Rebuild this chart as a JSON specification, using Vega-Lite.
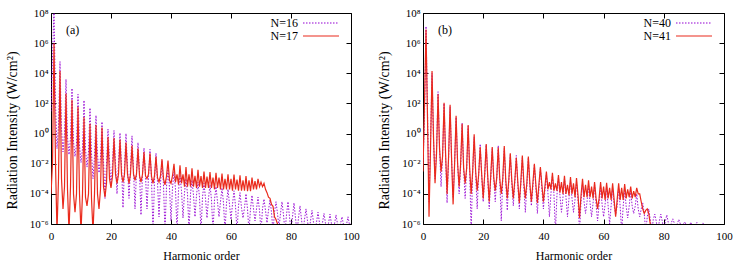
{
"$schema":"https://vega.github.io/schema/vega-lite/v6.json",
"background":"white",
"padding":{"left":4,"top":6,"right":0,"bottom":0},
"config":{"font":"Liberation Serif","view":{"stroke":"#000","strokeWidth":1},
 "axis":{"tickSize":-5,"tickColor":"#000","domain":false,"grid":false,"labelFont":"Liberation Serif","labelFontSize":11,"labelColor":"#000","titleFont":"Liberation Serif","titleFontSize":12,"titleFontWeight":"normal","titleColor":"#000","labelFlush":false,"labelOverlap":false},
 "axisX":{"labelPadding":11,"titlePadding":9},
 "axisY":{"labelPadding":8,"titlePadding":10,"titleFontSize":14},
 "legend":{"labelFont":"Liberation Serif","labelFontSize":12,"labelColor":"#000"}},
"datasets":{
"a16":[{"x":0,"y":30},{"x":0.5,"y":1e5},{"x":1,"y":2e8},{"x":1.5,"y":100},{"x":2,"y":0.1},{"x":2.5,"y":3},{"x":3,"y":6e4},{"x":3.5,"y":2},{"x":4,"y":0.06},{"x":4.5,"y":1},{"x":5,"y":4000},{"x":5.5,"y":0.6},{"x":6,"y":0.04},{"x":6.5,"y":0.5},{"x":7,"y":1000},{"x":7.5,"y":0.3},{"x":8,"y":0.03},{"x":8.5,"y":0.2},{"x":9,"y":400},{"x":9.5,"y":0.15},{"x":10,"y":0.012},{"x":10.5,"y":0.1},{"x":11,"y":160},{"x":11.5,"y":0.1},{"x":12,"y":0.006},{"x":12.5,"y":0.06},{"x":13,"y":50},{"x":13.5,"y":0.05},{"x":14,"y":0.001},{"x":14.5,"y":0.03},{"x":15,"y":16},{"x":15.5,"y":0.04},{"x":16,"y":0.0025},{"x":16.5,"y":0.025},{"x":17,"y":6},{"x":17.5,"y":0.016},{"x":18,"y":5e-5},{"x":18.5,"y":0.01},{"x":19,"y":2},{"x":19.5,"y":0.016},{"x":20,"y":3e-4},{"x":20.5,"y":0.01},{"x":21,"y":1.6},{"x":21.5,"y":0.012},{"x":22,"y":1e-4},{"x":22.5,"y":0.01},{"x":23,"y":1.1},{"x":23.5,"y":0.008},{"x":24,"y":1.2e-5},{"x":24.5,"y":0.006},{"x":25,"y":1},{"x":25.5,"y":0.006},{"x":26,"y":5e-5},{"x":26.5,"y":0.005},{"x":27,"y":0.7},{"x":27.5,"y":0.004},{"x":28,"y":1e-5},{"x":28.5,"y":0.003},{"x":29,"y":0.25},{"x":29.5,"y":0.0025},{"x":30,"y":4e-6},{"x":30.5,"y":0.002},{"x":31,"y":0.11},{"x":31.5,"y":0.0016},{"x":32,"y":1e-5},{"x":32.5,"y":0.0012},{"x":33,"y":0.09},{"x":33.5,"y":0.001},{"x":34,"y":3e-7},{"x":34.5,"y":8e-4},{"x":35,"y":0.05},{"x":35.5,"y":6e-4},{"x":36,"y":3e-6},{"x":36.5,"y":5e-4},{"x":37,"y":0.016},{"x":37.5,"y":4e-4},{"x":38,"y":3e-7},{"x":38.5,"y":3e-4},{"x":39,"y":0.0055},{"x":39.5,"y":2.5e-4},{"x":40,"y":1.6e-6},{"x":40.5,"y":2.5e-4},{"x":41,"y":0.003},{"x":41.5,"y":2e-4},{"x":42,"y":3e-7},{"x":42.5,"y":1.6e-4},{"x":43,"y":0.0016},{"x":43.5,"y":1.6e-4},{"x":44,"y":2.5e-6},{"x":44.5,"y":1.2e-4},{"x":45,"y":0.001},{"x":45.5,"y":1e-4},{"x":46,"y":3e-7},{"x":46.5,"y":1e-4},{"x":47,"y":8e-4},{"x":47.5,"y":8e-5},{"x":48,"y":3e-6},{"x":48.5,"y":8e-5},{"x":49,"y":6e-4},{"x":49.5,"y":6e-5},{"x":50,"y":3e-7},{"x":50.5,"y":6e-5},{"x":51,"y":5e-4},{"x":51.5,"y":5e-5},{"x":52,"y":2.5e-6},{"x":52.5,"y":5e-5},{"x":53,"y":4e-4},{"x":53.5,"y":4e-5},{"x":54,"y":3e-7},{"x":54.5,"y":4e-5},{"x":55,"y":3e-4},{"x":55.5,"y":3e-5},{"x":56,"y":3e-6},{"x":56.5,"y":3e-5},{"x":57,"y":2.5e-4},{"x":57.5,"y":2.5e-5},{"x":58,"y":3e-7},{"x":58.5,"y":2.5e-5},{"x":59,"y":2e-4},{"x":59.5,"y":2e-5},{"x":60,"y":2e-6},{"x":60.5,"y":2e-5},{"x":61,"y":1.6e-4},{"x":61.5,"y":1.6e-5},{"x":62,"y":3e-7},{"x":62.5,"y":1.6e-5},{"x":63,"y":1.2e-4},{"x":63.5,"y":1.2e-5},{"x":64,"y":2.5e-6},{"x":64.5,"y":1.2e-5},{"x":65,"y":1e-4},{"x":65.5,"y":1e-5},{"x":66,"y":3e-7},{"x":66.5,"y":1e-5},{"x":67,"y":8e-5},{"x":67.5,"y":1e-5},{"x":68,"y":1.6e-6},{"x":68.5,"y":1e-5},{"x":69,"y":6e-5},{"x":69.5,"y":8e-6},{"x":70,"y":3e-7},{"x":70.5,"y":1e-5},{"x":71,"y":4.5e-5},{"x":71.5,"y":8e-6},{"x":72,"y":1.2e-6},{"x":72.5,"y":8e-6},{"x":73,"y":4e-5},{"x":73.5,"y":6e-6},{"x":74,"y":3e-7},{"x":74.5,"y":6e-6},{"x":75,"y":3e-5},{"x":75.5,"y":5e-6},{"x":76,"y":6e-7},{"x":76.5,"y":5e-6},{"x":77,"y":3e-5},{"x":77.5,"y":4e-6},{"x":78,"y":3e-7},{"x":78.5,"y":4e-6},{"x":79,"y":3e-5},{"x":79.5,"y":3e-6},{"x":80,"y":3e-7},{"x":80.5,"y":3e-6},{"x":81,"y":2.5e-5},{"x":81.5,"y":2.5e-6},{"x":82,"y":3e-7},{"x":82.5,"y":2.5e-6},{"x":83,"y":1.6e-5},{"x":83.5,"y":2e-6},{"x":84,"y":3e-7},{"x":84.5,"y":2e-6},{"x":85,"y":1e-5},{"x":85.5,"y":1.6e-6},{"x":86,"y":3e-7},{"x":86.5,"y":1.6e-6},{"x":87,"y":8e-6},{"x":87.5,"y":1.3e-6},{"x":88,"y":3e-7},{"x":88.5,"y":1.3e-6},{"x":89,"y":6e-6},{"x":89.5,"y":1.2e-6},{"x":90,"y":3e-7},{"x":90.5,"y":1.2e-6},{"x":91,"y":5e-6},{"x":91.5,"y":1.1e-6},{"x":92,"y":3e-7},{"x":92.5,"y":1.1e-6},{"x":93,"y":4.5e-6},{"x":93.5,"y":1e-6},{"x":94,"y":3e-7},{"x":94.5,"y":1e-6},{"x":95,"y":4e-6},{"x":95.5,"y":1e-6},{"x":96,"y":3e-7},{"x":96.5,"y":1e-6},{"x":97,"y":3e-6},{"x":97.5,"y":9e-7},{"x":98,"y":3e-7},{"x":98.5,"y":9e-7},{"x":99,"y":3e-6},{"x":99.5,"y":9e-7},{"x":100,"y":1e-6}],
"a17":[{"x":0,"y":1e-4},{"x":0.5,"y":0.01},{"x":1,"y":1e6},{"x":1.5,"y":0.01},{"x":2,"y":3e-7},{"x":2.5,"y":1e-3},{"x":3,"y":1.4e4},{"x":3.5,"y":1e-3},{"x":4,"y":1e-5},{"x":4.5,"y":3e-4},{"x":5,"y":450},{"x":5.5,"y":2e-4},{"x":6,"y":3e-7},{"x":6.5,"y":3e-4},{"x":7,"y":170},{"x":7.5,"y":1e-4},{"x":8,"y":6e-6},{"x":8.5,"y":1e-4},{"x":9,"y":60},{"x":9.5,"y":1e-4},{"x":10,"y":3e-7},{"x":10.5,"y":1e-4},{"x":11,"y":12},{"x":11.5,"y":6e-5},{"x":12,"y":1.6e-5},{"x":12.5,"y":1e-4},{"x":13,"y":4.5},{"x":13.5,"y":5e-5},{"x":14,"y":3e-7},{"x":14.5,"y":1e-4},{"x":15,"y":3.7},{"x":15.5,"y":1e-4},{"x":16,"y":1e-5},{"x":16.5,"y":2e-4},{"x":17,"y":2.5},{"x":17.5,"y":3e-4},{"x":18,"y":6e-5},{"x":18.5,"y":5e-4},{"x":19,"y":0.6},{"x":19.5,"y":1e-3},{"x":20,"y":2.5e-4},{"x":20.5,"y":1.5e-3},{"x":21,"y":0.5},{"x":21.5,"y":2e-3},{"x":22,"y":5e-4},{"x":22.5,"y":2e-3},{"x":23,"y":0.4},{"x":23.5,"y":2e-3},{"x":24,"y":6e-4},{"x":24.5,"y":2e-3},{"x":25,"y":0.25},{"x":25.5,"y":2e-3},{"x":26,"y":5e-4},{"x":26.5,"y":2e-3},{"x":27,"y":0.16},{"x":27.5,"y":2e-3},{"x":28,"y":8e-4},{"x":28.5,"y":2e-3},{"x":29,"y":0.1},{"x":29.5,"y":1.6e-3},{"x":30,"y":6e-4},{"x":30.5,"y":2e-3},{"x":31,"y":0.06},{"x":31.5,"y":1.6e-3},{"x":32,"y":1e-3},{"x":32.5,"y":2e-3},{"x":33,"y":0.05},{"x":33.5,"y":1.5e-3},{"x":34,"y":5e-4},{"x":34.5,"y":1.6e-3},{"x":35,"y":0.03},{"x":35.5,"y":1.2e-3},{"x":36,"y":6e-4},{"x":36.5,"y":1.6e-3},{"x":37,"y":0.02},{"x":37.5,"y":1e-3},{"x":38,"y":4e-4},{"x":38.5,"y":1.5e-3},{"x":39,"y":0.016},{"x":39.5,"y":8e-4},{"x":40,"y":5e-4},{"x":40.5,"y":1.6e-3},{"x":41,"y":0.01},{"x":41.5,"y":6e-4},{"x":42,"y":2e-3},{"x":42.5,"y":4e-4},{"x":43,"y":0.008},{"x":43.5,"y":5e-4},{"x":44,"y":2e-3},{"x":44.5,"y":3e-4},{"x":45,"y":0.006},{"x":45.5,"y":3e-4},{"x":46,"y":2e-3},{"x":46.5,"y":3e-4},{"x":47,"y":0.005},{"x":47.5,"y":3e-4},{"x":48,"y":1.6e-3},{"x":48.5,"y":2.5e-4},{"x":49,"y":0.004},{"x":49.5,"y":3e-4},{"x":50,"y":1.5e-3},{"x":50.5,"y":2.5e-4},{"x":51,"y":0.003},{"x":51.5,"y":2.5e-4},{"x":52,"y":1.4e-3},{"x":52.5,"y":2.5e-4},{"x":53,"y":0.0028},{"x":53.5,"y":2.5e-4},{"x":54,"y":1.2e-3},{"x":54.5,"y":2e-4},{"x":55,"y":0.0025},{"x":55.5,"y":2.5e-4},{"x":56,"y":1.2e-3},{"x":56.5,"y":2e-4},{"x":57,"y":0.0022},{"x":57.5,"y":2e-4},{"x":58,"y":1e-3},{"x":58.5,"y":2e-4},{"x":59,"y":0.002},{"x":59.5,"y":2e-4},{"x":60,"y":1e-3},{"x":60.5,"y":1.6e-4},{"x":61,"y":0.0019},{"x":61.5,"y":2e-4},{"x":62,"y":9e-4},{"x":62.5,"y":1.6e-4},{"x":63,"y":0.0017},{"x":63.5,"y":1.6e-4},{"x":64,"y":8e-4},{"x":64.5,"y":1.6e-4},{"x":65,"y":0.0015},{"x":65.5,"y":1.5e-4},{"x":66,"y":8e-4},{"x":66.5,"y":1.5e-4},{"x":67,"y":0.0012},{"x":67.5,"y":2e-4},{"x":68,"y":7e-4},{"x":68.5,"y":2e-4},{"x":69,"y":0.001},{"x":69.5,"y":3e-4},{"x":70,"y":6e-4},{"x":70.5,"y":3e-4},{"x":71,"y":5e-4},{"x":71.5,"y":2e-4},{"x":72,"y":1.2e-4},{"x":72.5,"y":6e-5},{"x":73,"y":5e-5},{"x":73.5,"y":2e-5},{"x":74,"y":1.5e-5},{"x":74.5,"y":3e-6},{"x":75,"y":2e-6},{"x":75.5,"y":1e-6},{"x":76,"y":5e-7},{"x":76.5,"y":2e-7},{"x":77,"y":1e-7}],
"b40":[{"x":0,"y":0.01},{"x":0.5,"y":10},{"x":1,"y":1.3e7},{"x":1.5,"y":30},{"x":2,"y":3e-5},{"x":2.5,"y":0.3},{"x":3,"y":1e4},{"x":3.5,"y":0.3},{"x":4,"y":1e-3},{"x":4.5,"y":0.1},{"x":5,"y":600},{"x":5.5,"y":0.1},{"x":6,"y":3e-4},{"x":6.5,"y":0.03},{"x":7,"y":100},{"x":7.5,"y":0.03},{"x":8,"y":2.5e-5},{"x":8.5,"y":0.02},{"x":9,"y":60},{"x":9.5,"y":0.02},{"x":10,"y":6e-5},{"x":10.5,"y":0.01},{"x":11,"y":12},{"x":11.5,"y":0.01},{"x":12,"y":1e-4},{"x":12.5,"y":0.006},{"x":13,"y":5},{"x":13.5,"y":0.005},{"x":14,"y":5e-5},{"x":14.5,"y":0.004},{"x":15,"y":3},{"x":15.5,"y":0.004},{"x":16,"y":3e-7},{"x":16.5,"y":0.003},{"x":17,"y":0.6},{"x":17.5,"y":0.002},{"x":18,"y":1e-5},{"x":18.5,"y":0.002},{"x":19,"y":0.2},{"x":19.5,"y":0.0015},{"x":20,"y":3e-5},{"x":20.5,"y":0.0015},{"x":21,"y":0.18},{"x":21.5,"y":0.0012},{"x":22,"y":1e-5},{"x":22.5,"y":0.001},{"x":23,"y":0.1},{"x":23.5,"y":0.001},{"x":24,"y":3e-5},{"x":24.5,"y":0.001},{"x":25,"y":0.16},{"x":25.5,"y":8e-4},{"x":26,"y":1.6e-6},{"x":26.5,"y":8e-4},{"x":27,"y":0.1},{"x":27.5,"y":6e-4},{"x":28,"y":8e-6},{"x":28.5,"y":6e-4},{"x":29,"y":0.04},{"x":29.5,"y":5e-4},{"x":30,"y":1.6e-5},{"x":30.5,"y":5e-4},{"x":31,"y":0.035},{"x":31.5,"y":4e-4},{"x":32,"y":1e-5},{"x":32.5,"y":4e-4},{"x":33,"y":0.025},{"x":33.5,"y":3e-4},{"x":34,"y":6e-6},{"x":34.5,"y":3e-4},{"x":35,"y":0.025},{"x":35.5,"y":3e-4},{"x":36,"y":1.6e-5},{"x":36.5,"y":2.5e-4},{"x":37,"y":0.008},{"x":37.5,"y":2.5e-4},{"x":38,"y":5e-6},{"x":38.5,"y":2e-4},{"x":39,"y":0.005},{"x":39.5,"y":2e-4},{"x":40,"y":1e-5},{"x":40.5,"y":1.6e-4},{"x":41,"y":0.002},{"x":41.5,"y":1.2e-4},{"x":42,"y":3e-6},{"x":42.5,"y":1e-4},{"x":43,"y":0.0016},{"x":43.5,"y":1e-4},{"x":44,"y":3e-7},{"x":44.5,"y":8e-5},{"x":45,"y":0.0012},{"x":45.5,"y":8e-5},{"x":46,"y":6e-6},{"x":46.5,"y":6e-5},{"x":47,"y":0.001},{"x":47.5,"y":6e-5},{"x":48,"y":3e-6},{"x":48.5,"y":5e-5},{"x":49,"y":8e-4},{"x":49.5,"y":5e-5},{"x":50,"y":6e-6},{"x":50.5,"y":4e-5},{"x":51,"y":6e-4},{"x":51.5,"y":4e-5},{"x":52,"y":3e-7},{"x":52.5,"y":3e-5},{"x":53,"y":5e-4},{"x":53.5,"y":3e-5},{"x":54,"y":5e-6},{"x":54.5,"y":3e-5},{"x":55,"y":4e-4},{"x":55.5,"y":2.5e-5},{"x":56,"y":3e-6},{"x":56.5,"y":2.5e-5},{"x":57,"y":4e-4},{"x":57.5,"y":2e-5},{"x":58,"y":1.6e-6},{"x":58.5,"y":2e-5},{"x":59,"y":3e-4},{"x":59.5,"y":2e-5},{"x":60,"y":3e-6},{"x":60.5,"y":2e-5},{"x":61,"y":3e-4},{"x":61.5,"y":1.6e-5},{"x":62,"y":1e-6},{"x":62.5,"y":1.6e-5},{"x":63,"y":2.5e-4},{"x":63.5,"y":1.6e-5},{"x":64,"y":4e-6},{"x":64.5,"y":1.5e-5},{"x":65,"y":2.5e-4},{"x":65.5,"y":1.5e-5},{"x":66,"y":3e-7},{"x":66.5,"y":1.5e-5},{"x":67,"y":2e-4},{"x":67.5,"y":1.5e-5},{"x":68,"y":2.5e-6},{"x":68.5,"y":1.5e-5},{"x":69,"y":1.6e-4},{"x":69.5,"y":1.5e-5},{"x":70,"y":5e-6},{"x":70.5,"y":1.5e-5},{"x":71,"y":1e-4},{"x":71.5,"y":1e-5},{"x":72,"y":3e-6},{"x":72.5,"y":1e-5},{"x":73,"y":2.5e-5},{"x":73.5,"y":5e-6},{"x":74,"y":3e-7},{"x":74.5,"y":3e-6},{"x":75,"y":1e-5},{"x":75.5,"y":2e-6},{"x":76,"y":3e-7},{"x":76.5,"y":2e-6},{"x":77,"y":4.5e-6},{"x":77.5,"y":1.5e-6},{"x":78,"y":3e-7},{"x":78.5,"y":1.5e-6},{"x":79,"y":4.5e-6},{"x":79.5,"y":1.5e-6},{"x":80,"y":3e-7},{"x":80.5,"y":1.5e-6},{"x":81,"y":4e-6},{"x":81.5,"y":1.2e-6},{"x":82,"y":3e-7},{"x":82.5,"y":1.2e-6},{"x":83,"y":2.2e-6},{"x":83.5,"y":1.1e-6},{"x":84,"y":3e-7},{"x":84.5,"y":1.1e-6},{"x":85,"y":2e-6},{"x":85.5,"y":1e-6},{"x":86,"y":3e-7},{"x":86.5,"y":1e-6},{"x":87,"y":1.4e-6},{"x":87.5,"y":8e-7},{"x":88,"y":3e-7},{"x":88.5,"y":8e-7},{"x":89,"y":1.3e-6},{"x":89.5,"y":8e-7},{"x":90,"y":3e-7},{"x":90.5,"y":8e-7},{"x":91,"y":1.3e-6},{"x":91.5,"y":8e-7},{"x":92,"y":3e-7},{"x":92.5,"y":8e-7},{"x":93,"y":1.2e-6},{"x":93.5,"y":5e-7},{"x":94,"y":3e-7},{"x":95,"y":1e-7}],
"b41":[{"x":0,"y":3e-3},{"x":0.5,"y":100},{"x":1,"y":8e6},{"x":1.5,"y":10},{"x":2,"y":3e-6},{"x":2.5,"y":0.1},{"x":3,"y":1.4e4},{"x":3.5,"y":0.5},{"x":4,"y":5e-4},{"x":4.5,"y":0.05},{"x":5,"y":400},{"x":5.5,"y":0.1},{"x":6,"y":3e-3},{"x":6.5,"y":0.03},{"x":7,"y":110},{"x":7.5,"y":0.05},{"x":8,"y":1e-4},{"x":8.5,"y":0.03},{"x":9,"y":80},{"x":9.5,"y":0.02},{"x":10,"y":2e-5},{"x":10.5,"y":0.01},{"x":11,"y":15},{"x":11.5,"y":0.01},{"x":12,"y":3e-4},{"x":12.5,"y":0.01},{"x":13,"y":4.5},{"x":13.5,"y":0.005},{"x":14,"y":5e-4},{"x":14.5,"y":0.005},{"x":15,"y":3.7},{"x":15.5,"y":0.005},{"x":16,"y":1e-4},{"x":16.5,"y":0.003},{"x":17,"y":0.9},{"x":17.5,"y":0.003},{"x":18,"y":1.6e-4},{"x":18.5,"y":0.002},{"x":19,"y":0.13},{"x":19.5,"y":0.002},{"x":20,"y":5e-5},{"x":20.5,"y":0.002},{"x":21,"y":0.2},{"x":21.5,"y":0.0015},{"x":22,"y":3e-5},{"x":22.5,"y":0.0015},{"x":23,"y":0.13},{"x":23.5,"y":0.0012},{"x":24,"y":1.6e-4},{"x":24.5,"y":0.0012},{"x":25,"y":0.12},{"x":25.5,"y":0.001},{"x":26,"y":1e-4},{"x":26.5,"y":0.001},{"x":27,"y":0.15},{"x":27.5,"y":8e-4},{"x":28,"y":5e-5},{"x":28.5,"y":8e-4},{"x":29,"y":0.05},{"x":29.5,"y":8e-4},{"x":30,"y":5e-5},{"x":30.5,"y":8e-4},{"x":31,"y":0.025},{"x":31.5,"y":6e-4},{"x":32,"y":2.5e-5},{"x":32.5,"y":6e-4},{"x":33,"y":0.035},{"x":33.5,"y":6e-4},{"x":34,"y":5e-5},{"x":34.5,"y":5e-4},{"x":35,"y":0.03},{"x":35.5,"y":5e-4},{"x":36,"y":3e-5},{"x":36.5,"y":5e-4},{"x":37,"y":0.01},{"x":37.5,"y":4e-4},{"x":38,"y":2.5e-5},{"x":38.5,"y":4e-4},{"x":39,"y":0.006},{"x":39.5,"y":4e-4},{"x":40,"y":3e-5},{"x":40.5,"y":3e-4},{"x":41,"y":0.003},{"x":41.5,"y":2e-4},{"x":42,"y":6e-4},{"x":42.5,"y":2e-4},{"x":43,"y":0.0025},{"x":43.5,"y":1.6e-4},{"x":44,"y":5e-4},{"x":44.5,"y":1.6e-4},{"x":45,"y":0.0018},{"x":45.5,"y":1.2e-4},{"x":46,"y":6e-4},{"x":46.5,"y":1e-4},{"x":47,"y":0.0016},{"x":47.5,"y":1e-4},{"x":48,"y":4e-4},{"x":48.5,"y":8e-5},{"x":49,"y":0.0013},{"x":49.5,"y":1e-4},{"x":50,"y":5e-4},{"x":50.5,"y":6e-5},{"x":51,"y":0.0011},{"x":51.5,"y":8e-5},{"x":52,"y":2.5e-6},{"x":52.5,"y":8e-5},{"x":53,"y":0.001},{"x":53.5,"y":6e-5},{"x":54,"y":4e-4},{"x":54.5,"y":6e-5},{"x":55,"y":8e-4},{"x":55.5,"y":6e-5},{"x":56,"y":3e-4},{"x":56.5,"y":5e-5},{"x":57,"y":6e-4},{"x":57.5,"y":5e-5},{"x":58,"y":1e-5},{"x":58.5,"y":5e-5},{"x":59,"y":6e-4},{"x":59.5,"y":5e-5},{"x":60,"y":3e-4},{"x":60.5,"y":4e-5},{"x":61,"y":5.5e-4},{"x":61.5,"y":5e-5},{"x":62,"y":2.5e-4},{"x":62.5,"y":4e-5},{"x":63,"y":5e-4},{"x":63.5,"y":4e-5},{"x":64,"y":3e-6},{"x":64.5,"y":4e-5},{"x":65,"y":5e-4},{"x":65.5,"y":4e-5},{"x":66,"y":2.5e-4},{"x":66.5,"y":4e-5},{"x":67,"y":4.5e-4},{"x":67.5,"y":5e-5},{"x":68,"y":2e-4},{"x":68.5,"y":6e-5},{"x":69,"y":3e-4},{"x":69.5,"y":5e-5},{"x":70,"y":1.5e-4},{"x":70.5,"y":6e-5},{"x":71,"y":2.5e-4},{"x":71.5,"y":1e-4},{"x":72,"y":1e-4},{"x":72.5,"y":3e-5},{"x":73,"y":1e-5},{"x":73.5,"y":5e-6},{"x":74,"y":8e-6},{"x":74.5,"y":1e-5},{"x":75,"y":5e-6},{"x":75.5,"y":1e-6},{"x":76,"y":3e-7},{"x":76.5,"y":1e-7}]
},
"hconcat":[
{"width":300,"height":211,
 "layer":[
  {"data":{"name":"a16"},"mark":{"type":"line","clip":true,"strokeWidth":0.9,"strokeDash":[1.5,1.5]},
   "encoding":{
    "x":{"field":"x","type":"quantitative","scale":{"domain":[0,100],"nice":false,"zero":false},"axis":{"orient":"bottom","values":[0,20,40,60,80,100],"title":"Harmonic order"}},
    "y":{"field":"y","type":"quantitative","scale":{"type":"log","domain":[1e-6,1e8],"nice":false},"axis":{"orient":"left","values":[1e-6,1e-4,0.01,1,100,10000,1e6,1e8],"title":"Radiation Intensity (W/cm²)","titleY":117,"labelExpr":"'10' + replace(replace(replace(replace(replace(replace('' + round(log(datum.value)/LN10), '-', '⁻'), '0', '⁰'), '2', '²'), '4', '⁴'), '6', '⁶'), '8', '⁸')"}},
    "color":{"datum":"N=16","type":"nominal","scale":{"domain":["N=16","N=17"],"range":["#9400d3","#ea2a1c"]},
     "legend":{"title":null,"orient":"none","legendX":263,"legendY":3,"padding":0,"symbolType":"M-3,0H3","symbolSize":144,"symbolStrokeWidth":1.1,"symbolFillColor":"transparent","rowPadding":0,"labelAlign":"right","labelOffset":-30,"labelLimit":100,
      "encode":{"symbols":{"update":{"stroke":{"signal":"datum.value === 'N=16' ? '#9400d3' : '#ea2a1c'"},"strokeDash":{"signal":"datum.value === 'N=16' ? [1.5,1.5] : [1,0]"}}}}}}
   }},
  {"data":{"name":"a17"},"mark":{"type":"line","clip":true,"strokeWidth":1.2},
   "encoding":{
    "x":{"field":"x","type":"quantitative","axis":{"orient":"top","values":[0,20,40,60,80,100],"labels":false,"title":null}},
    "y":{"field":"y","type":"quantitative","axis":{"orient":"right","values":[1e-6,1e-4,0.01,1,100,10000,1e6,1e8],"labels":false,"title":null}},
    "color":{"datum":"N=17","type":"nominal"}
   }},
  {"data":{"values":[{"x":5,"y":8e6,"t":"(a)"}]},"mark":{"type":"text","align":"left","baseline":"middle","fontSize":12,"font":"Liberation Serif","color":"#000"},
   "encoding":{"x":{"field":"x","type":"quantitative","axis":null},"y":{"field":"y","type":"quantitative","axis":null},"text":{"field":"t","type":"nominal"}}}
 ],
 "resolve":{"axis":{"x":"independent","y":"independent"}}
},
{"width":301,"height":211,
 "layer":[
  {"data":{"name":"b40"},"mark":{"type":"line","clip":true,"strokeWidth":0.9,"strokeDash":[1.5,1.5]},
   "encoding":{
    "x":{"field":"x","type":"quantitative","scale":{"domain":[0,100],"nice":false,"zero":false},"axis":{"orient":"bottom","values":[0,20,40,60,80,100],"title":"Harmonic order"}},
    "y":{"field":"y","type":"quantitative","scale":{"type":"log","domain":[1e-6,1e8],"nice":false},"axis":{"orient":"left","values":[1e-6,1e-4,0.01,1,100,10000,1e6,1e8],"title":"Radiation Intensity (W/cm²)","titleY":117,"labelExpr":"'10' + replace(replace(replace(replace(replace(replace('' + round(log(datum.value)/LN10), '-', '⁻'), '0', '⁰'), '2', '²'), '4', '⁴'), '6', '⁶'), '8', '⁸')"}},
    "color":{"datum":"N=40","type":"nominal","scale":{"domain":["N=40","N=41"],"range":["#9400d3","#ea2a1c"]},
     "legend":{"title":null,"orient":"none","legendX":264,"legendY":3,"padding":0,"symbolType":"M-3,0H3","symbolSize":144,"symbolStrokeWidth":1.1,"symbolFillColor":"transparent","rowPadding":0,"labelAlign":"right","labelOffset":-30,"labelLimit":100,
      "encode":{"symbols":{"update":{"stroke":{"signal":"datum.value === 'N=40' ? '#9400d3' : '#ea2a1c'"},"strokeDash":{"signal":"datum.value === 'N=40' ? [1.5,1.5] : [1,0]"}}}}}}
   }},
  {"data":{"name":"b41"},"mark":{"type":"line","clip":true,"strokeWidth":1.2},
   "encoding":{
    "x":{"field":"x","type":"quantitative","axis":{"orient":"top","values":[0,20,40,60,80,100],"labels":false,"title":null}},
    "y":{"field":"y","type":"quantitative","axis":{"orient":"right","values":[1e-6,1e-4,0.01,1,100,10000,1e6,1e8],"labels":false,"title":null}},
    "color":{"datum":"N=41","type":"nominal"}
   }},
  {"data":{"values":[{"x":5,"y":8e6,"t":"(b)"}]},"mark":{"type":"text","align":"left","baseline":"middle","fontSize":12,"font":"Liberation Serif","color":"#000"},
   "encoding":{"x":{"field":"x","type":"quantitative","axis":null},"y":{"field":"y","type":"quantitative","axis":null},"text":{"field":"t","type":"nominal"}}}
 ],
 "resolve":{"axis":{"x":"independent","y":"independent"}}
}
],
"spacing":16,
"resolve":{"scale":{"color":"independent"}}
}
